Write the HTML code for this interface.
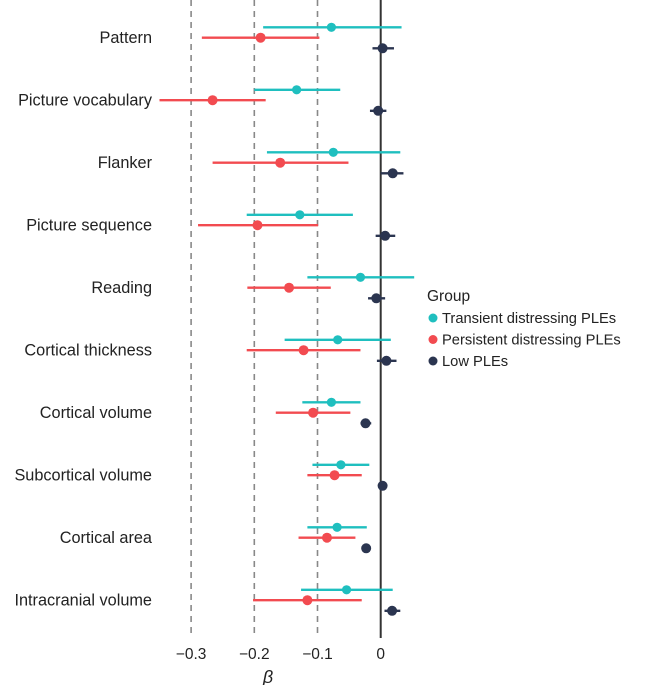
<!DOCTYPE html>
<html><head><meta charset="utf-8"><style>
body{margin:0;background:#fff;}
svg text{font-family:"Liberation Sans",sans-serif;}
</style></head><body>
<svg id="chart" width="645" height="685" xmlns="http://www.w3.org/2000/svg"></svg>
<script>
const categories=["Pattern","Picture vocabulary","Flanker","Picture sequence","Reading","Cortical thickness","Cortical volume","Subcortical volume","Cortical area","Intracranial volume"];
const transientEst=[-0.078,-0.133,-0.075,-0.128,-0.032,-0.068,-0.078,-0.063,-0.069,-0.054];
const transientLo=[-0.186,-0.200,-0.180,-0.212,-0.116,-0.152,-0.124,-0.108,-0.116,-0.126];
const transientHi=[0.033,-0.064,0.031,-0.044,0.053,0.016,-0.032,-0.018,-0.022,0.019];
const persistentEst=[-0.190,-0.266,-0.159,-0.195,-0.145,-0.122,-0.107,-0.073,-0.085,-0.116];
const persistentLo=[-0.283,-0.350,-0.266,-0.289,-0.211,-0.212,-0.166,-0.116,-0.130,-0.202];
const persistentHi=[-0.097,-0.182,-0.051,-0.099,-0.079,-0.032,-0.048,-0.030,-0.040,-0.030];
const lowEst=[0.003,-0.004,0.019,0.007,-0.007,0.009,-0.024,0.003,-0.023,0.018];
const lowLo=[-0.013,-0.017,0.000,-0.008,-0.020,-0.006,-0.032,-0.004,-0.030,0.006];
const lowHi=[0.021,0.009,0.036,0.023,0.007,0.025,-0.015,0.008,-0.016,0.031];
const xTicks=[-0.3,-0.2,-0.1,0];
const xTickLabels=["\u22120.3","\u22120.2","\u22120.1","0"];

const NS="http://www.w3.org/2000/svg";
const svg=document.getElementById('chart');
const x=v=>380.7+v*632;
const y=i=>37.7+i*62.5;
function mk(tag,attrs,parent){const e=document.createElementNS(NS,tag);for(const k in attrs)e.setAttribute(k,attrs[k]);(parent||svg).appendChild(e);return e;}

xTicks.forEach((t,i)=>{
  if(t!==0){const l=mk('line',{x1:x(t),x2:x(t),y1:0,y2:638,stroke:'#888','stroke-width':1.6,'stroke-dasharray':'6,5'});
  
  }
  const tx=mk('text',{x:x(t),y:659,'text-anchor':'middle','font-size':15.5,fill:'#222'});
  tx.textContent=xTickLabels[i];
  
  
});
const zl=mk('line',{x1:x(0),x2:x(0),y1:0,y2:638,stroke:'#333','stroke-width':2});



const xt=mk('text',{x:268,y:683,'text-anchor':'middle','font-size':18,'font-style':'italic',fill:'#222','font-family':'Liberation Serif, serif'});
xt.textContent='β';



const series=[
 {name:'transient',col:'#1fbfbf',est:transientEst,lo:transientLo,hi:transientHi,off:-10.4,r:4.6},
 {name:'persistent',col:'#f24b50',est:persistentEst,lo:persistentLo,hi:persistentHi,off:0,r:5},
 {name:'low',col:'#2b3550',est:lowEst,lo:lowLo,hi:lowHi,off:10.6,r:5}
];
categories.forEach((c,i)=>{
  const t=mk('text',{x:152,y:y(i)+5.5,'text-anchor':'end','font-size':16.3,fill:'#222'});
  t.textContent=c;
  
  
  series.forEach(s=>{
    const yy=y(i)+s.off;
    const l=mk('line',{x1:x(s.lo[i]),x2:x(s.hi[i]),y1:yy,y2:yy,stroke:s.col,'stroke-width':2.3});
    
    
    const p=mk('circle',{cx:x(s.est[i]),cy:yy,r:s.r,fill:s.col});
    
    
  });
});

const lg=mk('g',{});


const lt=mk('text',{x:427,y:301,'font-size':15.5,fill:'#222'},lg);
lt.textContent='Group';
const labels=['Transient distressing PLEs','Persistent distressing PLEs','Low PLEs'];
series.forEach((s,k)=>{
  const yy=318+k*21.5;
  mk('circle',{cx:433,cy:yy,r:4.5,fill:s.col},lg);
  const t=mk('text',{x:442,y:yy+5,'font-size':14.7,fill:'#222'},lg);
  t.textContent=labels[k];
  
  
});
</script>
</body></html>
